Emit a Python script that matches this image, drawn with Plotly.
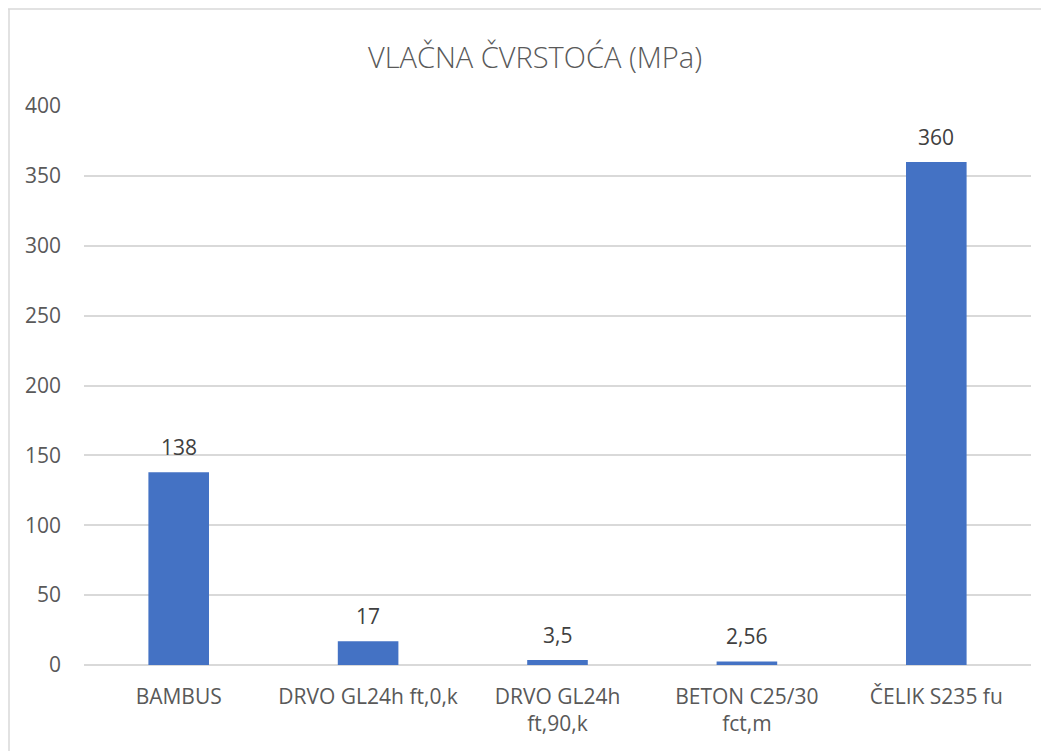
import plotly.graph_objects as go

categories = ["BAMBUS", "DRVO GL24h ft,0,k", "DRVO GL24h<br>ft,90,k", "BETON C25/30<br>fct,m", "ČELIK S235 fu"]
values = [138, 17, 3.5, 2.56, 360]
value_labels = ["138", "17", "3,5", "2,56", "360"]
y_ticks = [0, 50, 100, 150, 200, 250, 300, 350, 400]

FONT = "Open Sans, Segoe UI, sans-serif"
FS = 21

fig = go.Figure()
fig.add_trace(go.Bar(
    x=categories, y=values,
    marker=dict(color="#4472C4", line=dict(width=0)),
    hoverinfo="x+y",
))

for c, v, t in zip(categories, values, value_labels):
    fig.add_annotation(x=c, y=v, text=t, showarrow=False, yanchor="bottom",
                       yshift=9, font=dict(family=FONT, size=FS, color="#404040"))

# page has an 8px body margin; plot area in page coords: x 84..1031, y 106..665
OFF = 8
W, H = 1049, 751
L, T = 84 - OFF, 106 - OFF
R = W - (1031 - OFF)
B = H - (665 - OFF)
pw, ph = W - L - R, H - T - B
bx = (0 - L) / pw
top_y = 1 + (T - 1) / ph
fig.add_shape(type="line", xref="paper", yref="paper", x0=bx + 1 / pw, x1=bx + 1 / pw, y0=-0.5, y1=top_y,
              line=dict(color="#D9D9D9", width=1.5))
fig.add_shape(type="line", xref="paper", yref="paper", x0=bx, x1=1.2, y0=top_y, y1=top_y,
              line=dict(color="#D9D9D9", width=1.5))

fig.update_layout(
    width=W, height=H,
    margin=dict(l=L, r=R, t=T, b=B),
    paper_bgcolor="white", plot_bgcolor="white",
    title=dict(text="VLAČNA ČVRSTOĆA (MPa)", x=(535 - OFF) / W, xref="container", xanchor="center",
               y=1 - (58 - OFF) / H, yanchor="middle",
               font=dict(family=FONT, size=29, color="#595959", weight=300)),
    showlegend=False,
    bargap=0.68,
    font=dict(family=FONT, size=FS, color="#595959"),
)
fig.update_xaxes(showgrid=False, showline=False, ticks="", tickfont=dict(size=FS, color="#595959"),
                 ticklabelstandoff=17)
fig.update_yaxes(range=[0, 400], tickvals=y_ticks, showgrid=True, gridcolor="#D9D9D9", gridwidth=1.5,
                 zeroline=True, zerolinecolor="#D9D9D9", zerolinewidth=1.5, showline=False,
                 ticks="", tickfont=dict(size=FS, color="#595959"), ticklabelstandoff=22)

fig.write_html("out.html")
